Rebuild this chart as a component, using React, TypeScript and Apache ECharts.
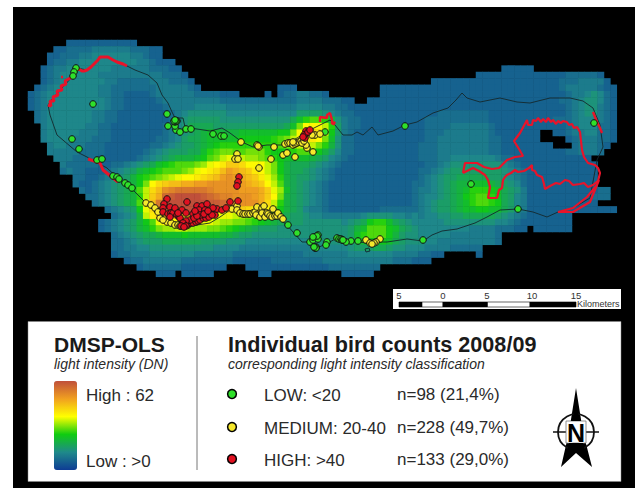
import React, { useEffect, useRef } from "react";
import * as echarts from "echarts";

// Light intensity raster: one character per cell, base-36, DN = value * 2. "." = no data.
const lightRows: string[] = [
  "......3333 3333333...",
  "....334444 5555554443 3",
  "...3344455 6666665543 3",
  "...3445566 6666666554 333",
  "..34556666 6665555554 4433...... .......... .......... .......... .......... ....33333.",
  "..34566666 6555555555 54443..... .......... .......... .......... .......... 3333333333 3333444443",
  "..34566666 6655444445 554443.... .......... .......... .......... ...3333333 3333333333 3334445555 3",
  ".345666666 6554444444 5555543... .........3 33........ .....33333 3333333333 3333333333 3334555554 33",
  "3456666666 6554433334 5555554444 333....3.3 4455443... .....33333 3333333333 3333333333 3333455676 43",
  "3456666666 6654433333 4555555555 4444444444 4455554443 3..3333333 3333333333 3333333333 3334456776 43",
  "3456666666 6654433333 3455556666 6555555555 5566665544 3333333333 3333333333 3333333333 3333456775 43",
  ".456666666 5544333333 3345677777 7666666666 6688887654 4333333333 3333444444 4433333333 3333456775 43",
  ".456666666 5544333333 3345788888 7777777777 79bdeeda75 4433333333 3344444444 4433333333 3344456665 43",
  "..56666665 5443333333 3456799998 8888888888 9bfjjjhd85 4433333333 3344445555 5543333333 3333456664 43",
  "..56666655 5443333333 3456789abb aaabbbbbbc cfjmmkhc85 4333333333 3344455555 5543333333 ..33455664 43",
  "..56666555 4443333333 4456899abb bbbcccccde fhjkkjfb74 4333333333 3344555555 5544333333 ....345554 43",
  "...5665554 4433333334 4567889abc ddddddddde fghhhfda74 4333333333 3444555555 5544333333 33...45554 3.",
  "...5555544 4433333345 6788899bde ffeefffdcc cdeedca864 4333333333 3444555555 5544333333 3333445554",
  "....555444 4333333456 789aaabcef hiihggfedc bbbba98654 3333333333 3444556666 6665443333 33333333..",
  ".....54444 4334456789 bcdeeefgij kmmljjjhfc a999876543 3333333333 3344567777 7777654333 333333333.",
  ".....45443 3345678abc deeefgijkl nponmkjhfc a998765433 3333333333 3445678888 8888765433 333333333.",
  ".......443 345678acde fghijjklmn pqponmkigd a988765433 3333333333 3456788999 9988765433 333333333.",
  ".......433 456789acfj lmnnooppqq qqqponmjhe a987654333 3333333333 4456789aab bba9876433 333333333.",
  "........43 456789behl nqrsssssrq qqqpppomig b987654333 3333333333 4556789abd ddcb987533 3333333334 4.",
  ".........4 456789adhm otuvvvvuts rrqqqpomjf a987654333 3333333333 4566789acd eedb986533 3333333344 4.",
  ".......... 456789aejn suvvvvvvuu trqqqqolhd a987654333 3333333333 4567889abd eedc986533 333333333.",
  ".......... ..45678cil rtuuvvuutr qonmlkkjfc a986554333 3333344444 4567889abb ccbb986533 3333333333 33",
  ".......... ...4567ahk mnoonnmlkj iihgfeedca 9887665555 5567777665 6566778899 9998765433 33333.....",
  ".......... .345678ace ijjjjiiiih ggffedcba9 8887777776 789cddb987 6666677777 7776654333 33333.....",
  ".......... .345678abd fgghhgggff edcba98887 7777777777 8abeeecb98 7666666665 55544433.3 33333.....",
  ".......... ...4567899 abbbcbbbbb aa98877777 7777777777 8bdeeeca87 7666665555 5554......",
  ".......... ...4456788 8999999888 8777666666 6666677777 79bcccb987 7766555555 5554......",
  ".......... ...4455667 7777777776 6665555555 5555666666 7888998776 6655554444 4.........",
  ".......... ...3445556 6666665555 5544444444 4445555555 6666666555 54433..... 3.........",
  ".......... .....34455 5555444444 4433333344 4444445555 5555555444 333.......",
  ".......... .......344 4444333333 3...333333 3333333444 44444.....",
  ".......... .......... 333.33333. ......33.. .........3 3333......",
];

const rampColors = ["#0e3c94", "#1f8a8a", "#10cc10", "#ffff00", "#f0a020", "#c0503a"];

const coastX = [48,50,57,77,87,107,120,133,146,153,167,180,197,210,220,230,240,260,277,287,293,302,310,317,328,337,350,367,378,387,407,423,432,442,457,475,487,500,518,533,547,558,573,590,597,603,600,593,583,570,550,530,517,500,480,467,462,456,448,433,417,405,393,378,372,363,357,352,343,335,330,310,297,283,267,253,242,230,222,210,197,185,183,175,172,168,162,157,148,135,127,117,108,100,95,87,77,72,62,53,48];
const coastY = [105,115,135,152,157,168,180,190,203,210,223,228,225,223,217,210,212,217,217,225,232,242,242,248,243,238,241,243,242,242,239,241,235,231,229,223,217,210,209,212,217,212,208,198,160,147,125,108,101,98,98,103,102,98,102,98,93,100,108,113,122,125,131,135,127,135,132,135,135,125,120,130,138,145,145,147,142,133,128,131,129,127,118,118,112,103,95,83,75,70,66,62,57,57,63,70,68,77,88,98,105];
const isletX = [365,369,370,366,365];
const isletY = [249,248,251,252,249];

const redWestX = [48,51,50,54,53,58,57,62,61,66,65,72,75,77,82,84,87,91,95,98,100,104,108,113,117,123,127];
const redWestY = [105,106,101,101,97,95,91,90,86,84,81,77,72,68,71,71,70,67,63,60,57,57,57,60,62,64,66];
const redDotX = [61,63];
const redDotY = [77,77];
const redSouthX = [88,94,100,103,108,113,118];
const redSouthY = [159,161,163,170,174,178,182];
const redHotX = [320,320,327,327,330,332,332,335,333];
const redHotY = [122,117,118,115,113,120,124,122,125];
const redEastX = [593,597,600,602];
const redEastY = [112,122,128,133];
const redLoopX = [463,465,477,484,492,499,507,515,523,519,514,520,527,528,532,533,536,538,541,543,546,548,551,553,556,558,561,563,567,569,572,574,577,580,582,584,588,595,598,600,597,587,573,558,573,590,599,593,588,584,580,573,569,565,560,556,550,545,544,542,537,535,532,532,529,524,518,515,511,507,505,503,502,499,497,488,490,488,485,479,473,463];
const redLoopY = [173,163,163,167,169,168,160,157,156,149,141,133,120,125,125,120,121,118,122,119,122,118,122,120,124,121,123,121,122,125,124,128,127,132,150,157,163,165,168,173,185,197,208,212,212,202,180,185,187,183,184,185,181,180,184,183,186,189,184,177,175,171,170,165,168,171,172,170,173,175,177,180,188,190,198,198,187,180,175,171,168,173];

const lowPoints: number[][] = [[76,68],[74,72],[73,76],[93,104],[72,139],[79,149],[97,160],[102,159],[113,176],[117,177],[119,179],[125,183],[128,185],[132,188],[167,114],[168,126],[176,130],[175,126],[177,121],[175,122],[176,121],[174,121],[175,120],[180,132],[186,129],[191,129],[213,134],[221,136],[224,136],[288,225],[297,233],[310,242],[315,237],[318,235],[316,247],[315,248],[316,248],[314,247],[313,240],[325,132],[405,126],[594,123],[471,184],[518,209],[423,240],[358,241],[351,241],[346,242],[337,238],[327,242],[326,245],[318,239],[317,236],[313,237],[339,239],[341,239],[342,240],[343,240]];
const mediumPoints: number[][] = [[146,203],[151,205],[155,208],[160,218],[167,222],[171,223],[175,225],[182,223],[237,154],[235,159],[238,159],[259,168],[271,159],[241,142],[257,145],[259,147],[258,146],[274,147],[283,155],[287,153],[295,157],[307,148],[306,145],[313,152],[285,144],[288,143],[290,143],[293,145],[295,144],[297,143],[299,142],[301,141],[302,143],[304,141],[293,142],[315,135],[312,135],[320,134],[232,209],[237,206],[237,210],[240,213],[243,214],[245,214],[248,214],[250,214],[253,213],[255,212],[257,207],[262,208],[264,206],[256,215],[260,217],[262,213],[265,217],[267,213],[268,214],[270,216],[273,209],[272,217],[275,216],[277,216],[278,213],[281,217],[283,219],[366,240],[370,243],[380,239],[376,242],[374,243],[372,244],[178,225],[180,226],[184,224],[186,224],[158,212],[163,220]];
const highPoints: number[][] = [[239,177],[238,182],[237,186],[167,199],[164,204],[170,207],[163,208],[163,212],[187,202],[182,210],[197,206],[202,206],[207,204],[199,210],[205,210],[210,212],[186,213],[193,214],[215,215],[217,209],[222,210],[226,208],[230,202],[238,201],[168,214],[171,213],[173,213],[177,215],[179,217],[180,218],[188,225],[190,223],[193,223],[196,222],[198,221],[200,220],[203,218],[206,218],[209,217],[212,215],[200,215],[204,214],[190,220],[186,221],[183,223],[181,226],[307,133],[305,138],[306,131],[304,135],[303,137],[308,132],[310,130],[186,226],[184,227],[194,218],[197,216],[175,208],[213,208],[178,213],[195,211],[170,217],[208,211]];

const scaleStops = [399, 422, 443, 487.5, 530, 576];
const scaleFill = ["#000", "#fff", "#000", "#fff", "#000"];
const scaleNumbers = ["5", "0", "5", "10", "15"];
const scaleNumberX = [399, 443, 487, 532, 576];

const legendRows = [
  { color: "#2fe02a", label: "LOW: <20", count: "n=98 (21,4%)", y: 395 },
  { color: "#f6e82c", label: "MEDIUM: 20-40", count: "n=228 (49,7%)", y: 428 },
  { color: "#e01020", label: "HIGH: >40", count: "n=133 (29,0%)", y: 460 },
];

const FONT = '"Liberation Sans"';
const cell = 6.4;

function pairs(xs: number[], ys: number[]) {
  return xs.map((x, i) => [x, ys[i]]);
}

function buildOption() {
  const cells: number[][] = [];
  lightRows.forEach((row, r) => {
    row.replace(/ /g, "").split("").forEach((ch, c) => {
      if (ch !== ".") cells.push([c, r, parseInt(ch, 36) * 2]);
    });
  });
  const colIdx = Array.from({ length: 92 }, (_, i) => String(i));
  const rowIdx = Array.from({ length: 37 }, (_, i) => String(i));

  const txt = (x: number, y: number, text: string, font: string, fill = "#2a2a2a", align = "left") => ({
    type: "text", x, y, z: 20,
    style: { text, font, fill, align, verticalAlign: "middle" },
  });

  const elements: any[] = [
    { type: "rect", z: 0, shape: { x: 13, y: 7, width: 622, height: 481 }, style: { fill: "#000" } },
    { type: "rect", z: 3, shape: { x: 393, y: 289, width: 228, height: 20 }, style: { fill: "#fff" } },
    { type: "rect", z: 3, shape: { x: 28, y: 321.5, width: 593, height: 160 }, style: { fill: "#fff", stroke: "#888", lineWidth: 0.5 } },
    { type: "line", z: 20, shape: { x1: 197, y1: 336, x2: 197, y2: 470 }, style: { stroke: "#777", lineWidth: 1 } },
    txt(54, 344.5, "DMSP-OLS", `bold 21px ${FONT}`, "#1a1a1a"),
    txt(54, 363.5, "light intensity (DN)", `italic 14px ${FONT}`),
    txt(86, 395, "High : 62", `17px ${FONT}`),
    txt(86, 461, "Low : >0", `17px ${FONT}`),
    txt(228, 344.5, "Individual bird counts 2008/09", `bold 21.6px ${FONT}`, "#1a1a1a"),
    txt(228, 363.5, "corresponding light intensity classification", `italic 14px ${FONT}`),
    txt(577, 304, "Kilometers", `9px ${FONT}`, "#333"),
    // north arrow
    { type: "polygon", z: 20, shape: { points: [[576, 388], [583, 432], [592, 467], [576, 453], [561, 467], [569, 432]] }, style: { fill: "#000" } },
    { type: "circle", z: 21, shape: { cx: 576, cy: 432, r: 18 }, style: { fill: "none", stroke: "#111", lineWidth: 1.8 } },
    { type: "line", z: 21, shape: { x1: 553, y1: 432, x2: 599, y2: 432 }, style: { stroke: "#111", lineWidth: 1.5 } },
    { type: "rect", z: 22, shape: { x: 566, y: 421, width: 20, height: 22 }, style: { fill: "#fff", stroke: "#777", lineWidth: 0.8 } },
    { type: "polygon", z: 22, shape: { points: [[576, 408], [581, 421], [571, 421]] }, style: { fill: "#000" } },
    { type: "polygon", z: 22, shape: { points: [[569, 443], [583, 443], [585, 452], [567, 452]] }, style: { fill: "#000" } },
    { type: "text", x: 576, y: 433, z: 23, style: { text: "N", font: `bold 25px ${FONT}`, fill: "#000", stroke: "#fff", lineWidth: 1, align: "center", verticalAlign: "middle" } },
  ];
  scaleNumbers.forEach((s, i) => elements.push(txt(scaleNumberX[i], 295.5, s, `9.5px ${FONT}`, "#333", "center")));
  scaleFill.forEach((fill, i) =>
    elements.push({ type: "rect", z: 20, shape: { x: scaleStops[i], y: 302, width: scaleStops[i + 1] - scaleStops[i], height: 5 }, style: { fill, stroke: "#000", lineWidth: 0.6 } })
  );
  legendRows.forEach((row) => {
    elements.push({ type: "circle", z: 20, shape: { cx: 232, cy: row.y - 1, r: 4.4 }, style: { fill: row.color, stroke: "#000", lineWidth: 1.5 } });
    elements.push(txt(264, row.y, row.label, `17px ${FONT}`));
    elements.push(txt(397, row.y - 0.5, row.count, `17px ${FONT}`));
  });

  const outline = (name: string, xs: number[], ys: number[], color: string, width: number) => ({
    type: "line", name, xAxisIndex: 1, yAxisIndex: 1, z: 2, data: pairs(xs, ys), showSymbol: false, symbol: "none",
    silent: true, lineStyle: { color, width },
  });
  const dots = (name: string, data: number[][], color: string, z: number) => ({
    type: "scatter", name, xAxisIndex: 1, yAxisIndex: 1, z, data, symbol: "circle", symbolSize: 6.6,
    itemStyle: { color, borderColor: "#111", borderWidth: 1, opacity: 1 },
  });

  return {
    animation: false,
    backgroundColor: "#fff",
    grid: [
      { left: 28, top: 40, width: 92 * cell, height: 37 * cell, containLabel: false },
      { left: 0, top: 0, width: 635, height: 488, containLabel: false },
    ],
    xAxis: [
      { type: "category", gridIndex: 0, data: colIdx, show: false },
      { type: "value", gridIndex: 1, min: 0, max: 635, show: false },
    ],
    yAxis: [
      { type: "category", gridIndex: 0, data: rowIdx, inverse: true, show: false },
      { type: "value", gridIndex: 1, min: 0, max: 488, inverse: true, show: false },
    ],
    visualMap: {
      type: "continuous", seriesIndex: 0, min: 0, max: 62, left: 54, top: 381, itemWidth: 23, itemHeight: 89,
      padding: 0, calculable: false, text: ["", ""], showLabel: false, hoverLink: false, realtime: false,
      inRange: { color: rampColors }, z: 10,
    },
    graphic: { elements },
    series: [
      { type: "heatmap", name: "DN", xAxisIndex: 0, yAxisIndex: 0, z: 1, data: cells, silent: true, progressive: 0 },
      outline("coast", coastX, coastY, "#14282c", 0.9),
      outline("islet", isletX, isletY, "#14282c", 0.9),
      outline("area west", redWestX, redWestY, "#e8142a", 3),
      outline("area dot", redDotX, redDotY, "#e8142a", 2.5),
      outline("area south", redSouthX, redSouthY, "#e8142a", 3),
      outline("area hotspot", redHotX, redHotY, "#e8142a", 2.4),
      outline("area east", redEastX, redEastY, "#e8142a", 2.4),
      outline("area loop", redLoopX, redLoopY, "#e8142a", 2.2),
      dots("LOW", lowPoints, "#2fe02a", 4),
      dots("MEDIUM", mediumPoints, "#f6e82c", 5),
      dots("HIGH", highPoints, "#e01020", 6),
    ],
  };
}

export default function App() {
  const ref = useRef<HTMLDivElement>(null);
  useEffect(() => {
    document.body.style.margin = "0";
    document.body.style.background = "#fff";
    const chart = echarts.init(ref.current!, undefined, { renderer: "svg" });
    chart.setOption(buildOption() as any);
    return () => chart.dispose();
  }, []);
  return <div ref={ref} style={{ position: "fixed", left: 0, top: 0, width: 635, height: 488 }} />;
}
